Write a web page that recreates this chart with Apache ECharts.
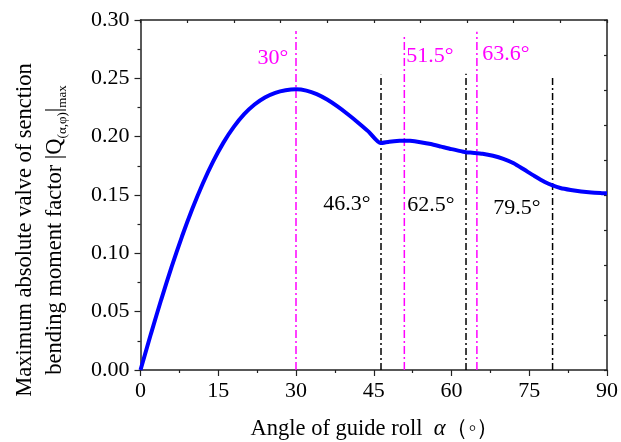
<!DOCTYPE html>
<html>
<head>
<meta charset="utf-8">
<script src="https://cdn.jsdelivr.net/npm/echarts@6/dist/echarts.min.js"></script>
<style>html,body{margin:0;padding:0;background:#fff}#c{width:621px;height:442px}</style>
</head>
<body>
<div id="c"></div>
<script>
// Curve data
var angles = [0, 2, 4, 6, 8, 10, 12, 14, 16, 18, 20, 22, 24, 26, 28, 30, 32, 34, 36, 38, 40, 42, 44, 46.3, 48, 50, 51, 52, 54, 56, 58, 60, 62, 62.8, 64, 66, 68, 70, 72, 74, 76, 78, 79.5, 81, 83, 85, 87, 89, 90];
var qmax   = [0, 0.0308, 0.0604, 0.0884, 0.1144, 0.1382, 0.1597, 0.1786, 0.1949, 0.2084, 0.2193, 0.2276, 0.2336, 0.2376, 0.2398, 0.2406, 0.2395, 0.2365, 0.2318, 0.2259, 0.2192, 0.2120, 0.2043, 0.1945, 0.1957, 0.1965, 0.1966, 0.1965, 0.1953, 0.1937, 0.1915, 0.1893, 0.1874, 0.1867, 0.1862, 0.1853, 0.1836, 0.1810, 0.1772, 0.1718, 0.1663, 0.1612, 0.1582, 0.1560, 0.1543, 0.1530, 0.1521, 0.1516, 0.1514];
// Reference lines (position, top value)
var magentaX   = [30, 50.9, 64.9];
var magentaTop = [0.2906, 0.287, 0.29];
var blackX     = [46.4, 62.8, 79.5];
var blackTop   = [0.253, 0.254, 0.251];
var magentaLabels = ['30°', '51.5°', '63.6°'];
var blackLabels   = ['46.3°', '62.5°', '79.5°'];
var xTicks = [0, 15, 30, 45, 60, 75, 90];
var yTicks = [0, 0.05, 0.10, 0.15, 0.20, 0.25, 0.30];

var FONT = '"Liberation Serif","Times New Roman",serif';
var chart = echarts.init(document.getElementById('c'));

var curve = angles.map(function (a, i) { return [a, qmax[i]]; });
var series = [{
  type: 'line', data: curve, showSymbol: false, smooth: 0.2,
  lineStyle: { color: '#0000ff', width: 4 }, z: 5
}];
magentaX.forEach(function (x, i) {
  series.push({ type: 'line', data: [[x, 0], [x, magentaTop[i]]], showSymbol: false,
    lineStyle: { color: '#ff00ff', width: 1.5, type: [8, 3, 2, 3] }, z: 3 });
});
blackX.forEach(function (x, i) {
  series.push({ type: 'line', data: [[x, 0], [x, blackTop[i]]], showSymbol: false,
    lineStyle: { color: '#000', width: 1.5, type: [7, 3, 2, 3] }, z: 3 });
});

var labelPos = [[273, 58], [430, 56], [506, 54]];
var blackPos = [[347, 204], [431, 205], [517, 208]];
var graphics = [];
magentaLabels.forEach(function (t, i) {
  graphics.push({ type: 'text', x: labelPos[i][0], y: labelPos[i][1],
    style: { text: t, fill: '#ff00ff', font: '22px ' + FONT, align: 'center', verticalAlign: 'middle' } });
});
blackLabels.forEach(function (t, i) {
  graphics.push({ type: 'text', x: blackPos[i][0], y: blackPos[i][1],
    style: { text: t, fill: '#000', font: '22px ' + FONT, align: 'center', verticalAlign: 'middle' } });
});
// Y axis title
graphics.push({
  type: 'text', x: 40, y: 230, rotation: Math.PI / 2,
  style: {
    text: '{m|Maximum absolute valve of senction}\n{m|bending moment factor |Q}{s|(α,φ)}{m||}{s|max}',
    align: 'center', verticalAlign: 'middle', fill: '#000',
    rich: {
      m: { fontFamily: FONT, fontSize: 22.5, lineHeight: 30, verticalAlign: 'middle', fill: '#000' },
      s: { fontFamily: FONT, fontSize: 13, lineHeight: 30, verticalAlign: 'bottom', fill: '#000', padding: [0, 0, 1, 0] }
    }
  }
});
// X axis title
graphics.push({
  type: 'text', x: 375, y: 429,
  style: {
    text: '{m|Angle of guide roll  }{i|α}{m|（◦）}',
    align: 'center', verticalAlign: 'middle',
    rich: {
      m: { fontFamily: FONT, fontSize: 22.5, fill: '#000' },
      i: { fontFamily: FONT, fontSize: 22.5, fontStyle: 'italic', fill: '#000' }
    }
  }
});

chart.setOption({
  animation: false,
  grid: { left: 140.5, right: 14, top: 20, bottom: 72, containLabel: false },
  xAxis: [{
    type: 'value', min: xTicks[0], max: xTicks[xTicks.length - 1], interval: 15,
    axisLine: { show: true, onZero: false, lineStyle: { color: '#222', width: 1.5 } },
    axisTick: { show: true, inside: false, length: 6, lineStyle: { color: '#222', width: 1.2 } },
    minorTick: { show: true, splitNumber: 2, length: 3, lineStyle: { color: '#222', width: 1.2 } },
    splitLine: { show: false },
    axisLabel: { color: '#000', fontFamily: FONT, fontSize: 22, margin: 10 }
  }, {
    type: 'value', position: 'top', min: 0, max: 10, interval: 1,
    axisLine: { show: true, onZero: false, lineStyle: { color: '#222', width: 1.5 } },
    axisTick: { show: true, inside: true, length: 3, lineStyle: { color: '#222', width: 1.2 } },
    axisLabel: { show: false }, splitLine: { show: false }
  }],
  yAxis: [{
    type: 'value', min: yTicks[0], max: yTicks[yTicks.length - 1], interval: 0.05,
    axisLine: { show: true, onZero: false, lineStyle: { color: '#222', width: 1.5 } },
    axisTick: { show: true, inside: false, length: 6, lineStyle: { color: '#222', width: 1.2 } },
    minorTick: { show: true, splitNumber: 2, length: 3, lineStyle: { color: '#222', width: 1.2 } },
    splitLine: { show: false },
    axisLabel: { color: '#000', fontFamily: FONT, fontSize: 22, margin: 11,
      formatter: function (v) { return v.toFixed(2); } }
  }, {
    type: 'value', position: 'right', min: 0, max: 10, interval: 1,
    axisLine: { show: true, onZero: false, lineStyle: { color: '#222', width: 1.5 } },
    axisTick: { show: true, inside: true, length: 3, lineStyle: { color: '#222', width: 1.2 } },
    axisLabel: { show: false }, splitLine: { show: false }
  }],
  series: series,
  graphic: graphics
});
</script>
</body>
</html>
